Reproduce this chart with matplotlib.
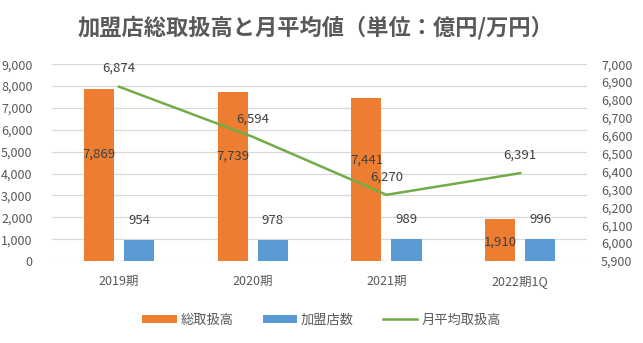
import matplotlib.pyplot as plt
import numpy as np

plt.rcParams['font.family'] = ['Noto Sans CJK JP', 'DejaVu Sans']

# data
periods = ['2019期', '2020期', '2021期', '2022期1Q']
total_sales = [7869, 7739, 7441, 1910]      # 総取扱高 (億円)
store_count = [954, 978, 989, 996]          # 加盟店数
monthly_avg = [6874, 6594, 6270, 6391]      # 月平均取扱高 (万円)

c_orange = '#ED7D31'
c_blue = '#5B9BD5'
c_green = '#70AD47'
c_text = '#595959'

fig = plt.figure(figsize=(6.43, 3.43), dpi=100)
ax = fig.add_axes([0.081, 0.239, 0.832, 0.574])
ax2 = ax.twinx()

x = np.arange(len(periods))
w = 0.225
b1 = ax.bar(x - 0.15, total_sales, w, color=c_orange, label='総取扱高', zorder=2)
b2 = ax.bar(x + 0.15, store_count, w, color=c_blue, label='加盟店数', zorder=2)
ln, = ax2.plot(x, monthly_avg, color=c_green, lw=1.8, label='月平均取扱高')

ax.set_xlim(-0.5, 3.5)
ax.set_ylim(0, 9000)
ax.set_yticks(np.arange(0, 9001, 1000))
ax.set_yticklabels([f'{v:,}' for v in range(0, 9001, 1000)])
ax2.set_ylim(5900, 7000)
ax2.set_yticks(np.arange(5900, 7001, 100))
ax2.set_yticklabels([f'{v:,}' for v in range(5900, 7001, 100)])
ax.set_xticks(x)
ax.set_xticklabels(periods)

ax.grid(axis='y', color='#D9D9D9', lw=0.9, zorder=0)
for a in (ax, ax2):
    for s in a.spines.values():
        s.set_visible(False)
    a.tick_params(length=0, labelsize=9, colors=c_text)
ax.tick_params(axis='x', pad=10)
ax.tick_params(axis='y', pad=14)
ax2.tick_params(axis='y', pad=10)

# data labels
for xi, v in zip(x, total_sales):
    ly = v * 0.62 if v > 5000 else v * 0.45
    ax.text(xi - 0.15, ly, f'{v:,}', ha='center', va='center', fontsize=9.5, color='#404040', zorder=3)
for xi, v in zip(x, store_count):
    ax.annotate(f'{v:,}', (xi + 0.15, v), xytext=(0, 14), textcoords='offset points',
                ha='center', va='center', fontsize=9.5, color='#404040')
for xi, v in zip(x, monthly_avg):
    ax2.annotate(f'{v:,}', (xi, v), xytext=(0, 13), textcoords='offset points',
                 ha='center', va='center', fontsize=9.5, color='#404040')

fig.text(0.49, 0.92, '加盟店総取扱高と月平均値（単位：億円/万円）', ha='center', va='center',
         fontsize=16, fontweight='bold', color=c_text)

fig.legend(handles=[b1, b2, ln], loc='center', bbox_to_anchor=(0.5, 0.067), ncol=3,
           frameon=False, fontsize=9.5, handlelength=2.6, handleheight=0.5,
           columnspacing=2.2, handletextpad=0.3, labelcolor=c_text)

fig.savefig('out.png', dpi=100)
